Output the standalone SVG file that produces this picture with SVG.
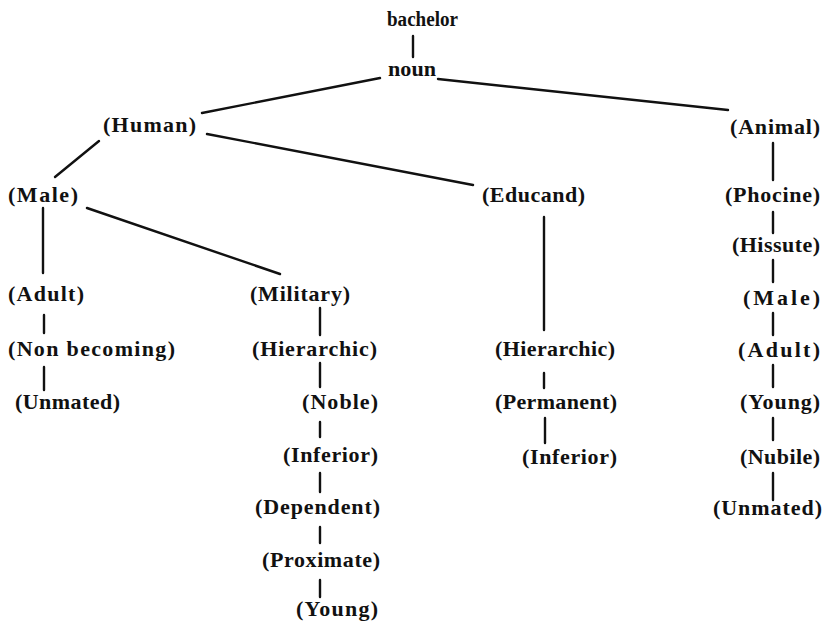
<svg xmlns="http://www.w3.org/2000/svg" width="825" height="621" viewBox="0 0 825 621">
<style>
text{font-family:"Liberation Serif","Times New Roman",serif;font-weight:bold;font-size:22px;fill:#111}
text.s{font-size:20px}
.c line{stroke:#111;stroke-width:2.4;stroke-linecap:round}
</style>
<rect width="825" height="621" fill="#fff"/>
<g class="c" id="connectors">
<line x1="413" y1="36" x2="413" y2="57"/>
<line x1="380" y1="78" x2="202" y2="113"/>
<line x1="438" y1="79" x2="728" y2="110"/>
<line x1="99" y1="141" x2="55" y2="177"/>
<line x1="207" y1="134" x2="473" y2="185"/>
<line x1="773" y1="143" x2="773" y2="180"/>
<line x1="43" y1="208" x2="43" y2="273"/>
<line x1="87" y1="208" x2="280" y2="274"/>
<line x1="44" y1="315" x2="44" y2="333"/>
<line x1="320" y1="308" x2="320" y2="335"/>
<line x1="44" y1="367" x2="44" y2="390"/>
<line x1="320" y1="363" x2="320" y2="387"/>
<line x1="320" y1="422" x2="320" y2="437"/>
<line x1="320" y1="473" x2="320" y2="492"/>
<line x1="320" y1="527" x2="320" y2="543"/>
<line x1="320" y1="580" x2="320" y2="597"/>
<line x1="544" y1="217" x2="544" y2="330"/>
<line x1="544" y1="373" x2="544" y2="388"/>
<line x1="545" y1="418" x2="545" y2="443"/>
<line x1="773" y1="212" x2="773" y2="233"/>
<line x1="773" y1="260" x2="773" y2="282"/>
<line x1="773" y1="313" x2="773" y2="335"/>
<line x1="773" y1="365" x2="773" y2="387"/>
<line x1="773" y1="418" x2="773" y2="440"/>
<line x1="773" y1="473" x2="773" y2="500"/>
</g>
<g id="n-bachelor"><text class="s" x="387" y="26" textLength="71" lengthAdjust="spacingAndGlyphs">bachelor</text></g>
<g id="n-noun"><text class="s" x="388" y="76" textLength="48" lengthAdjust="spacingAndGlyphs">noun</text></g>
<g id="n-human"><text x="103" y="132" textLength="93" lengthAdjust="spacing">(Human)</text></g>
<g id="n-animal"><text x="730" y="134" textLength="90" lengthAdjust="spacing">(Animal)</text></g>
<g id="n-male"><text x="8" y="202" textLength="70" lengthAdjust="spacing">(Male)</text></g>
<g id="n-educand"><text x="482" y="202" textLength="103" lengthAdjust="spacing">(Educand)</text></g>
<g id="n-phocine"><text x="725" y="202" textLength="95" lengthAdjust="spacing">(Phocine)</text></g>
<g id="n-hissute"><text x="732" y="252" textLength="88" lengthAdjust="spacing">(Hissute)</text></g>
<g id="n-adult"><text x="8" y="301" textLength="76" lengthAdjust="spacing">(Adult)</text></g>
<g id="n-military"><text x="250" y="301" textLength="100" lengthAdjust="spacing">(Military)</text></g>
<g id="n-male2"><text x="743" y="305" textLength="77" lengthAdjust="spacing">(Male)</text></g>
<g id="n-nonbecoming"><text x="8" y="356" textLength="167" lengthAdjust="spacing">(Non  becoming)</text></g>
<g id="n-hierarchic"><text x="252" y="356" textLength="125" lengthAdjust="spacing">(Hierarchic)</text></g>
<g id="n-hierarchic2"><text x="495" y="356" textLength="120" lengthAdjust="spacing">(Hierarchic)</text></g>
<g id="n-adult2"><text x="738" y="357" textLength="82" lengthAdjust="spacing">(Adult)</text></g>
<g id="n-unmated"><text x="15" y="409" textLength="105" lengthAdjust="spacing">(Unmated)</text></g>
<g id="n-noble"><text x="302" y="409" textLength="76" lengthAdjust="spacing">(Noble)</text></g>
<g id="n-permanent"><text x="495" y="409" textLength="122" lengthAdjust="spacing">(Permanent)</text></g>
<g id="n-young2"><text x="740" y="409" textLength="80" lengthAdjust="spacing">(Young)</text></g>
<g id="n-inferior"><text x="283" y="462" textLength="95" lengthAdjust="spacing">(Inferior)</text></g>
<g id="n-inferior2"><text x="522" y="464" textLength="95" lengthAdjust="spacing">(Inferior)</text></g>
<g id="n-nubile"><text x="740" y="464" textLength="80" lengthAdjust="spacing">(Nubile)</text></g>
<g id="n-dependent"><text x="255" y="514" textLength="125" lengthAdjust="spacing">(Dependent)</text></g>
<g id="n-unmated2"><text x="713" y="515" textLength="109" lengthAdjust="spacing">(Unmated)</text></g>
<g id="n-proximate"><text x="262" y="567" textLength="118" lengthAdjust="spacing">(Proximate)</text></g>
<g id="n-young"><text x="296" y="616" textLength="82" lengthAdjust="spacing">(Young)</text></g>
</svg>
